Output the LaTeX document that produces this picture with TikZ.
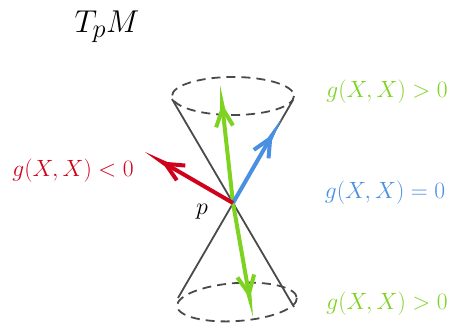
\documentclass[tikz,border=0pt]{standalone}
\usetikzlibrary{arrows.meta}
\definecolor{cgreen}{HTML}{7ED321}
\definecolor{cblue}{HTML}{4A90E2}
\definecolor{cred}{HTML}{D0021B}
\definecolor{cgray}{HTML}{4A4A4A}
\begin{document}
\begin{tikzpicture}[x=1pt,y=-1pt,
  coneline/.style={cgray,line width=1.8pt},
  rim/.style={cgray,line width=1.8pt,dash pattern=on 9pt off 6pt},
  vec/.style={line width=4pt,-{Straight Barb[length=18pt,width=17pt,line width=4pt,sep=-5pt]Stealth[length=24pt,width=5pt,inset=0pt,line width=0pt]}},
  lab/.style={inner sep=0pt,anchor=base,font=\Huge}]
\useasboundingbox (0,0) rectangle (453,323);
% points
\coordinate (p) at (233,203);
\coordinate (tl) at (172,99);
\coordinate (tr) at (293,100);
\coordinate (bl) at (178,298);
\coordinate (br) at (294,307);
\coordinate (gu) at (220,85);
\coordinate (gd) at (253,317);
\coordinate (bt) at (282,118);
\coordinate (rt) at (145,152);
% cone
\draw[rim] (233,96) ellipse [x radius=61, y radius=19];
\draw[rim,rotate around={4:(237,302)}] (237,302) ellipse [x radius=60, y radius=19];
\draw[coneline] (tl) -- (br);
\draw[coneline] (tr) -- (bl);
% vectors
\draw[vec,cgreen] (p) -- (gu);
\draw[vec,cgreen] (p) -- (gd);
\draw[vec,cblue] (p) -- (bt);
\draw[vec,cred] (p) -- (rt);
% labels
\node[lab] (tpm) at (107,33) {\scalebox{1.27}{$T_pM$}};
\node[lab,text=cgreen] (lup) at (387,98) {\scalebox{0.945}{$g(X,X)>0$}};
\node[lab,text=cblue] (lnull) at (385,199) {\scalebox{0.945}{$g(X,X)=0$}};
\node[lab,text=cgreen] (ldown) at (387,310) {\scalebox{0.945}{$g(X,X)>0$}};
\node[lab,text=cred] (lneg) at (73,177) {\scalebox{0.945}{$g(X,X)<0$}};
\node[lab] (lp) at (202,215) {\scalebox{0.965}{$p$}};
\end{tikzpicture}
\end{document}
